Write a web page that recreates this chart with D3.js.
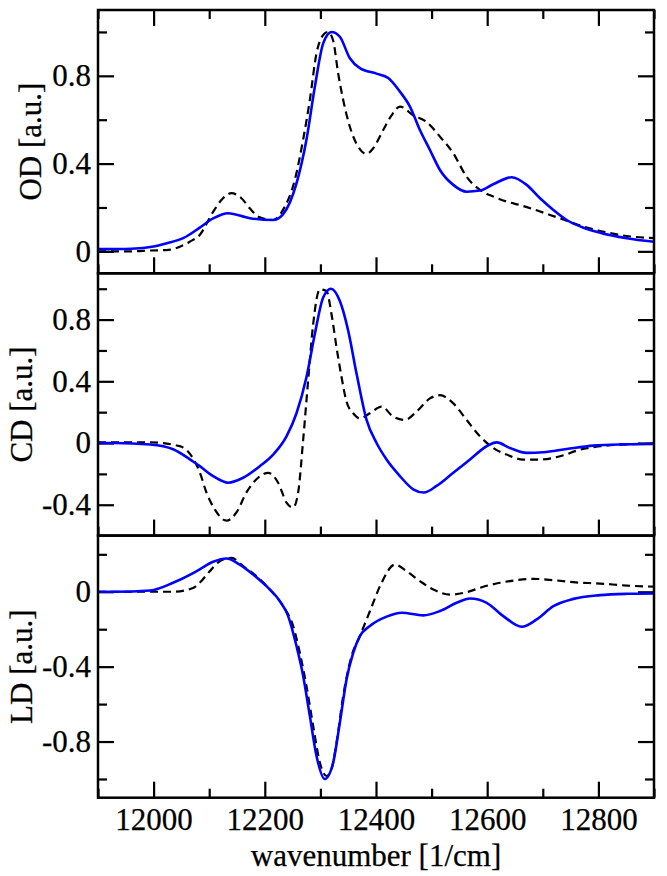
<!DOCTYPE html>
<html>
<head>
<meta charset="utf-8">
<script src="https://cdn.jsdelivr.net/npm/d3@7"></script>
<style>
  html, body { margin: 0; padding: 0; background: #fff; }
  svg { display: block; }
</style>
</head>
<body>
<svg id="chart" width="667" height="876"></svg>
<script>
// ---------- DATA ----------
const xTickMajor = [12000, 12200, 12400, 12600, 12800];
const xTickMinor = [11900, 12100, 12300, 12500, 12700, 12900];
const xDomain = [11900, 12900];

// OD panel
const odYDomain = [-0.1, 1.1];
const odTickMajor = [0, 0.4, 0.8];
const odTickMinor = [0.2, 0.6, 1.0];
const odBlueX = [11900, 11960, 12000, 12024, 12053, 12083, 12107, 12134, 12173, 12215, 12233, 12257, 12275, 12290, 12305, 12320, 12335, 12353, 12371, 12401, 12422, 12443, 12461, 12479, 12497, 12515, 12539, 12563, 12587, 12611, 12644, 12671, 12695, 12719, 12743, 12773, 12803, 12851, 12900];
const odBlueY = [0.01, 0.012, 0.022, 0.037, 0.06, 0.108, 0.15, 0.174, 0.151, 0.143, 0.17, 0.31, 0.51, 0.75, 0.948, 1.0, 0.978, 0.88, 0.835, 0.81, 0.79, 0.728, 0.66, 0.553, 0.462, 0.371, 0.303, 0.272, 0.277, 0.306, 0.338, 0.303, 0.242, 0.189, 0.143, 0.108, 0.085, 0.06, 0.044];
const odBlackX = [11900, 11960, 11994, 12023, 12065, 12083, 12107, 12124, 12140, 12158, 12173, 12191, 12215, 12233, 12254, 12269, 12281, 12293, 12305, 12314, 12323, 12332, 12341, 12353, 12368, 12383, 12395, 12413, 12428, 12443, 12467, 12491, 12515, 12539, 12563, 12587, 12611, 12635, 12659, 12683, 12713, 12743, 12773, 12803, 12851, 12900];
const odBlackY = [0, 0, 0.004, 0.006, 0.044, 0.075, 0.18, 0.24, 0.265, 0.242, 0.196, 0.155, 0.143, 0.19, 0.326, 0.51, 0.69, 0.903, 0.986, 1.0, 0.96, 0.81, 0.69, 0.568, 0.477, 0.444, 0.47, 0.553, 0.62, 0.66, 0.62, 0.59, 0.523, 0.447, 0.34, 0.28, 0.25, 0.227, 0.211, 0.192, 0.166, 0.14, 0.113, 0.093, 0.07, 0.06];

// CD panel
const cdYDomain = [-0.6, 1.1];
const cdTickMajor = [-0.4, 0, 0.4, 0.8];
const cdTickMinor = [-0.2, 0.2, 0.6, 1.0];
const cdBlueX = [11900, 11930, 11994, 12035, 12071, 12083, 12107, 12134, 12161, 12191, 12215, 12239, 12257, 12275, 12290, 12305, 12319, 12335, 12350, 12365, 12383, 12401, 12419, 12443, 12467, 12486, 12509, 12539, 12569, 12599, 12617, 12641, 12671, 12701, 12743, 12791, 12839, 12900];
const cdBlueY = [0, 0, -0.01, -0.04, -0.12, -0.15, -0.214, -0.257, -0.225, -0.15, -0.075, 0.043, 0.193, 0.428, 0.707, 0.943, 1.0, 0.92, 0.728, 0.45, 0.15, 0.0, -0.107, -0.214, -0.3, -0.321, -0.278, -0.193, -0.107, -0.021, 0.004, -0.032, -0.064, -0.06, -0.039, -0.017, -0.009, -0.006];
const cdBlackX = [11900, 11990, 12047, 12071, 12083, 12095, 12110, 12131, 12149, 12167, 12188, 12206, 12224, 12239, 12251, 12260, 12269, 12278, 12287, 12299, 12311, 12320, 12329, 12338, 12347, 12359, 12371, 12389, 12410, 12431, 12452, 12473, 12497, 12515, 12539, 12563, 12587, 12611, 12635, 12665, 12695, 12731, 12767, 12803, 12851, 12900];
const cdBlackY = [0.005, 0.005, -0.02, -0.1, -0.19, -0.32, -0.43, -0.503, -0.45, -0.32, -0.225, -0.193, -0.257, -0.386, -0.418, -0.32, 0.02, 0.407, 0.771, 0.996, 0.985, 0.835, 0.62, 0.428, 0.268, 0.193, 0.16, 0.193, 0.236, 0.171, 0.15, 0.204, 0.289, 0.31, 0.257, 0.15, 0.043, -0.032, -0.075, -0.107, -0.107, -0.086, -0.043, -0.021, -0.009, -0.004];

// LD panel
const ldYDomain = [-1.1, 0.3];
const ldTickMajor = [-0.8, -0.4, 0];
const ldTickMinor = [-1.0, -0.6, -0.2, 0.2];
const ldBlueX = [11900, 11931, 11994, 12035, 12071, 12083, 12107, 12131, 12155, 12179, 12203, 12227, 12242, 12257, 12269, 12281, 12293, 12308, 12323, 12335, 12347, 12359, 12371, 12389, 12419, 12446, 12485, 12515, 12545, 12569, 12599, 12629, 12662, 12689, 12719, 12755, 12803, 12851, 12900];
const ldBlueY = [0, 0, 0.007, 0.048, 0.1, 0.12, 0.16, 0.178, 0.145, 0.092, 0.03, -0.05, -0.13, -0.29, -0.45, -0.663, -0.877, -1.0, -0.912, -0.699, -0.468, -0.326, -0.237, -0.183, -0.133, -0.112, -0.126, -0.103, -0.059, -0.036, -0.059, -0.13, -0.187, -0.148, -0.077, -0.038, -0.018, -0.011, -0.009];
const ldBlackX = [11900, 11994, 12035, 12071, 12083, 12101, 12119, 12140, 12161, 12185, 12209, 12233, 12251, 12263, 12275, 12287, 12299, 12311, 12320, 12329, 12341, 12356, 12371, 12389, 12410, 12434, 12455, 12479, 12503, 12533, 12563, 12593, 12623, 12653, 12683, 12719, 12755, 12803, 12851, 12900];
const ldBlackY = [0, 0, 0, 0.02, 0.048, 0.11, 0.163, 0.181, 0.137, 0.083, 0.012, -0.077, -0.183, -0.326, -0.504, -0.717, -0.912, -0.984, -0.948, -0.806, -0.557, -0.344, -0.237, -0.104, 0.048, 0.145, 0.11, 0.057, 0.012, -0.015, -0.002, 0.027, 0.048, 0.062, 0.069, 0.062, 0.051, 0.044, 0.033, 0.027];

const panelLabels = ["OD [a.u.]", "CD [a.u.]", "LD [a.u.]"];
const xLabel = "wavenumber [1/cm]";

// ---------- LAYOUT ----------
const FONT = "Liberation Serif, Times New Roman, Times, DejaVu Serif, serif";
const FS = 31;      // tick labels
const FT = 31;      // axis titles
const svg = d3.select("#chart");
const left = 98, right = 654;
const bounds = [10, 273.3, 535.6, 797.7];
const titleX = [30, 21, 21];

const x = d3.scaleLinear().domain(xDomain).range([left, right]);

const panels = [
  {yd: odYDomain, maj: odTickMajor, min: odTickMinor, bx: odBlueX, by: odBlueY, kx: odBlackX, ky: odBlackY, top: true},
  {yd: cdYDomain, maj: cdTickMajor, min: cdTickMinor, bx: cdBlueX, by: cdBlueY, kx: cdBlackX, ky: cdBlackY, top: false},
  {yd: ldYDomain, maj: ldTickMajor, min: ldTickMinor, bx: ldBlueX, by: ldBlueY, kx: ldBlackX, ky: ldBlackY, top: false}
];

const fmt = v => (Math.abs(v) < 1e-9 ? "0" : String(+v.toFixed(2)));

function styleAxis(g) {
  g.attr("font-family", FONT).attr("font-size", FS);
  g.select(".domain").remove();
  g.selectAll(".tick line").attr("stroke", "#000").attr("stroke-width", 2.2);
  g.selectAll(".tick text").attr("fill", "#000").attr("font-family", FONT).attr("font-size", FS)
    .attr("stroke", "#000").attr("stroke-width", 0.25);
}

panels.forEach((p, i) => {
  const top = bounds[i], bot = bounds[i + 1];
  const y = d3.scaleLinear().domain(p.yd).range([bot, top]);

  const clipId = "clip" + i;
  svg.append("clipPath").attr("id", clipId)
    .append("rect").attr("x", left).attr("y", top).attr("width", right - left).attr("height", bot - top);

  const g = svg.append("g");

  g.append("g").attr("transform", `translate(${left},0)`)
    .call(d3.axisLeft(y).tickValues(p.maj).tickSize(-16).tickPadding(7).tickFormat(fmt))
    .call(styleAxis);
  g.append("g").attr("transform", `translate(${left},0)`)
    .call(d3.axisLeft(y).tickValues(p.min).tickSize(-9).tickFormat(""))
    .call(styleAxis);
  g.append("g").attr("transform", `translate(${right},0)`)
    .call(d3.axisRight(y).tickValues(p.maj).tickSize(-16).tickFormat(""))
    .call(styleAxis);
  g.append("g").attr("transform", `translate(${right},0)`)
    .call(d3.axisRight(y).tickValues(p.min).tickSize(-9).tickFormat(""))
    .call(styleAxis);

  const isLast = i === panels.length - 1;
  g.append("g").attr("transform", `translate(0,${bot})`)
    .call(d3.axisBottom(x).tickValues(xTickMajor).tickSize(-16).tickPadding(10)
      .tickFormat(isLast ? d3.format("d") : ""))
    .call(styleAxis);
  g.append("g").attr("transform", `translate(0,${bot})`)
    .call(d3.axisBottom(x).tickValues(xTickMinor).tickSize(-9).tickFormat(""))
    .call(styleAxis);
  if (p.top) {
    g.append("g").attr("transform", `translate(0,${top})`)
      .call(d3.axisTop(x).tickValues(xTickMajor).tickSize(-16).tickFormat(""))
      .call(styleAxis);
    g.append("g").attr("transform", `translate(0,${top})`)
      .call(d3.axisTop(x).tickValues(xTickMinor).tickSize(-9).tickFormat(""))
      .call(styleAxis);
  }

  const line = d3.line().x(d => x(d[0])).y(d => y(d[1])).curve(d3.curveMonotoneX);
  const black = p.kx.map((v, j) => [v, p.ky[j]]);
  const blue = p.bx.map((v, j) => [v, p.by[j]]);

  const lg = g.append("g").attr("clip-path", `url(#${clipId})`);
  lg.append("path").attr("d", line(black)).attr("fill", "none")
    .attr("stroke", "#000").attr("stroke-width", 2.2).attr("stroke-dasharray", "8,5");
  lg.append("path").attr("d", line(blue)).attr("fill", "none")
    .attr("stroke", "#0000ff").attr("stroke-width", 2.6);

  g.append("rect").attr("x", left).attr("y", top).attr("width", right - left).attr("height", bot - top)
    .attr("fill", "none").attr("stroke", "#000").attr("stroke-width", 2.5);

  const cy = (top + bot) / 2;
  svg.append("text")
    .attr("transform", `translate(${titleX[i]},${cy}) rotate(-90)`)
    .attr("text-anchor", "middle").attr("dominant-baseline", "central")
    .attr("font-family", FONT).attr("font-size", FT).attr("fill", "#000")
    .attr("stroke", "#000").attr("stroke-width", 0.25)
    .text(panelLabels[i]);
});

svg.append("text")
  .attr("x", (left + right) / 2).attr("y", 866)
  .attr("text-anchor", "middle")
  .attr("font-family", FONT).attr("font-size", FT).attr("fill", "#000")
  .attr("stroke", "#000").attr("stroke-width", 0.25)
  .text(xLabel);
</script>
</body>
</html>
